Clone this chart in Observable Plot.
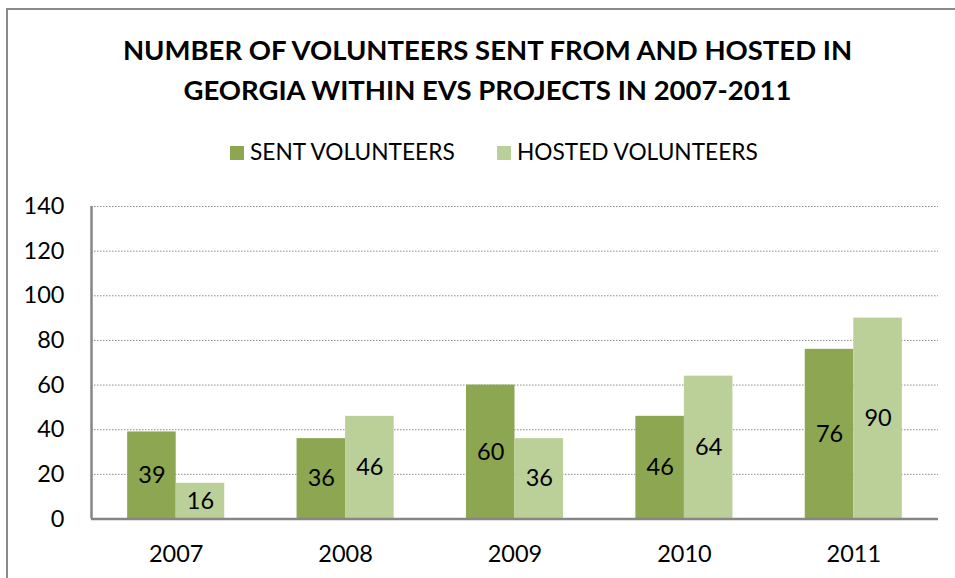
<!DOCTYPE html>
<html><head><meta charset="utf-8">
<script src="https://cdn.jsdelivr.net/npm/d3@7"></script>
<script src="https://cdn.jsdelivr.net/npm/@observablehq/plot@0.6"></script>
<style>
body{margin:0;background:#fff;font-family:Lato,sans-serif;color:#000;}
#wrap{position:relative;width:955px;height:578px;overflow:hidden;}
#border{position:absolute;left:6px;top:8px;width:960px;height:580px;border-top:2px solid #8a8a8a;border-left:2px solid #8a8a8a;}
#title{position:absolute;left:0;width:975px;top:30px;text-align:center;font-weight:bold;font-size:27.5px;line-height:40px;}
.leg{position:absolute;top:139px;font-size:22.7px;line-height:26px;white-space:nowrap;}
.sw{display:inline-block;width:14px;height:14px;margin-right:6px;vertical-align:0px;}
#chart{position:absolute;left:0;top:190px;}
</style></head>
<body><div id="wrap"><div id="border"></div>
<div id="title"></div>
<div id="legend"></div>
<div id="chart"></div></div>
<script>
const titleLines = ["NUMBER OF VOLUNTEERS SENT FROM AND HOSTED IN", "GEORGIA WITHIN EVS PROJECTS IN 2007-2011"];
const years = ["2007", "2008", "2009", "2010", "2011"];
const series = ["SENT VOLUNTEERS", "HOSTED VOLUNTEERS"];
const sent = [39, 36, 60, 46, 76];
const hosted = [16, 46, 36, 64, 90];
const yTicks = [0, 20, 40, 60, 80, 100, 120, 140];
const colors = ["#8ca651", "#bbcf98"];

document.getElementById("title").innerHTML = titleLines.join("<br>");
const legPos = [230, 497];
const legend = document.getElementById("legend");
series.forEach((s, i) => {
  const d = document.createElement("div");
  d.className = "leg";
  d.style.left = legPos[i] + "px";
  d.innerHTML = `<span class="sw" style="background:${colors[i]}"></span>${s}`;
  legend.appendChild(d);
});

// each year occupies one unit on x; the pair of bars fills this fraction of it
const groupFrac = 0.573;
const data = years.flatMap((yr, i) => [
  {year: yr, series: series[0], value: sent[i], x1: i + (1 - groupFrac) / 2, x2: i + 0.5},
  {year: yr, series: series[1], value: hosted[i], x1: i + 0.5, x2: i + (1 + groupFrac) / 2}
]);

const fs = 23.5;
const chart = Plot.plot({
  width: 955, height: 388,
  marginTop: 16, marginBottom: 59.5, marginLeft: 91, marginRight: 17,
  style: {fontFamily: "Lato, sans-serif", fontSize: fs + "px", color: "#000", background: "transparent"},
  x: {domain: [0, years.length], axis: null},
  y: {domain: [0, 140], axis: null},
  color: {domain: series, range: colors},
  marks: [
    Plot.ruleY(yTicks.filter(t => t > 0), {stroke: "#8a8a8a", strokeWidth: 1, strokeDasharray: "1.5,1.5"}),
    Plot.rectY(data, {x1: "x1", x2: "x2", y: "value", fill: "series"}),
    Plot.text(data, {x: d => (d.x1 + d.x2) / 2, y: d => d.value / 2, text: d => String(d.value), fontSize: fs, fill: "#000"}),
    Plot.ruleY([0], {stroke: "#868686", strokeWidth: 2.5}),
    Plot.ruleX([0], {stroke: "#868686", strokeWidth: 2.5}),
    Plot.axisY(yTicks, {tickSize: 0, tickPadding: 27, fontSize: fs, label: null}),
    Plot.axisX(years.map((_, i) => i + 0.5), {tickSize: 0, tickPadding: 26, fontSize: fs, label: null, tickFormat: t => years[Math.floor(t)]})
  ]
});
document.getElementById("chart").appendChild(chart);
</script></body></html>
